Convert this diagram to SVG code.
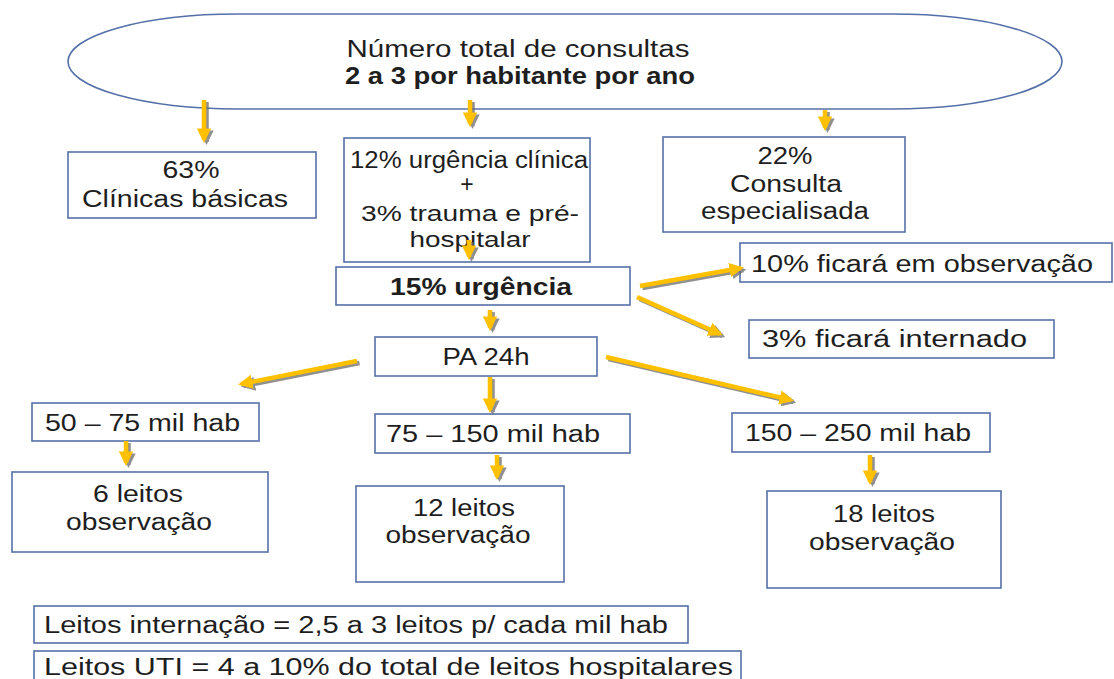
<svg xmlns="http://www.w3.org/2000/svg" width="1114" height="679" viewBox="0 0 1114 679">
<defs>
<style>
.box{fill:#fff;stroke:#5570a8;stroke-width:1.6}
.t{font-family:"Liberation Sans",Arial,sans-serif;font-size:23px;fill:#1e1e1e}
.c{text-anchor:middle}
.b{font-weight:bold}
.arr{fill:none;stroke:#FFC000;stroke-width:4.5}
.sh{fill:none;stroke:#6b6b6b;stroke-width:4.5;opacity:0.75}
</style>
<marker id="ah" viewBox="0 0 10 10" refX="8" refY="5" markerWidth="3.2" markerHeight="3.4" orient="auto" markerUnits="strokeWidth">
<path d="M0,0 L10,5 L0,10 Z" fill="#FFC000"/>
</marker>
<marker id="ahs" viewBox="0 0 10 10" refX="8" refY="5" markerWidth="3.2" markerHeight="3.4" orient="auto" markerUnits="strokeWidth">
<path d="M0,0 L10,5 L0,10 Z" fill="#6b6b6b"/>
</marker>
</defs>
<rect width="1114" height="679" fill="#fff"/>

<g id="n-total">
<rect class="box" x="68" y="14" width="994" height="95" rx="170" ry="47.5"/>
<text class="t c" x="518" y="57" textLength="343" lengthAdjust="spacingAndGlyphs">Número total de consultas</text>
<text class="t c b" x="520" y="84" textLength="350" lengthAdjust="spacingAndGlyphs">2 a 3 por habitante por ano</text>
</g>
<g id="n-clinicas">
<rect class="box" x="68" y="152" width="248" height="66"/>
<text class="t c" x="191" y="178" textLength="57" lengthAdjust="spacingAndGlyphs">63%</text>
<text class="t c" x="185" y="207" textLength="206" lengthAdjust="spacingAndGlyphs">Clínicas básicas</text>
</g>
<g id="n-urgclin">
<rect class="box" x="344" y="138" width="246" height="124"/>
<text class="t c" x="469" y="168" textLength="238" lengthAdjust="spacingAndGlyphs">12% urgência clínica</text>
<text class="t c" x="467" y="192">+</text>
<text class="t c" x="470" y="221" style="font-size:22px" textLength="218" lengthAdjust="spacingAndGlyphs">3% trauma e pré-</text>
<text class="t c" x="470" y="247" style="font-size:22px" textLength="121" lengthAdjust="spacingAndGlyphs">hospitalar</text>
</g>
<g id="n-espec">
<rect class="box" x="663" y="137" width="242" height="95"/>
<text class="t c" x="785" y="164" textLength="55" lengthAdjust="spacingAndGlyphs">22%</text>
<text class="t c" x="786" y="192" textLength="112" lengthAdjust="spacingAndGlyphs">Consulta</text>
<text class="t c" x="785" y="219" textLength="168" lengthAdjust="spacingAndGlyphs">especialisada</text>
</g>
<g id="n-urg">
<rect class="box" x="336" y="267" width="294" height="38"/>
<text class="t c b" x="481" y="295" textLength="182" lengthAdjust="spacingAndGlyphs">15% urgência</text>
</g>
<g id="n-obs10">
<rect class="box" x="740" y="243" width="372" height="39"/>
<text class="t" x="751" y="272" textLength="342" lengthAdjust="spacingAndGlyphs">10% ficará em observação</text>
</g>
<g id="n-int3">
<rect class="box" x="749" y="320" width="305" height="38"/>
<text class="t" x="762" y="347" textLength="265" lengthAdjust="spacingAndGlyphs">3% ficará internado</text>
</g>
<g id="n-pa">
<rect class="box" x="375" y="337" width="222" height="39"/>
<text class="t c" x="486" y="365" textLength="87" lengthAdjust="spacingAndGlyphs">PA 24h</text>
</g>
<g id="n-50">
<rect class="box" x="32" y="403" width="227" height="38"/>
<text class="t" x="45" y="431" textLength="195" lengthAdjust="spacingAndGlyphs">50 – 75 mil hab</text>
</g>
<g id="n-75">
<rect class="box" x="375" y="414" width="255" height="39"/>
<text class="t" x="386" y="442" textLength="214" lengthAdjust="spacingAndGlyphs">75 – 150 mil hab</text>
</g>
<g id="n-150">
<rect class="box" x="732" y="413" width="258" height="39"/>
<text class="t" x="745" y="441" textLength="226" lengthAdjust="spacingAndGlyphs">150 – 250 mil hab</text>
</g>
<g id="n-6">
<rect class="box" x="12" y="472" width="256" height="80"/>
<text class="t c" x="138" y="502" textLength="90" lengthAdjust="spacingAndGlyphs">6 leitos</text>
<text class="t c" x="139" y="530" textLength="146" lengthAdjust="spacingAndGlyphs">observação</text>
</g>
<g id="n-12">
<rect class="box" x="356" y="486" width="208" height="96"/>
<text class="t c" x="464" y="516" textLength="102" lengthAdjust="spacingAndGlyphs">12 leitos</text>
<text class="t c" x="458" y="543" textLength="145" lengthAdjust="spacingAndGlyphs">observação</text>
</g>
<g id="n-18">
<rect class="box" x="767" y="491" width="234" height="97"/>
<text class="t c" x="884" y="522" textLength="102" lengthAdjust="spacingAndGlyphs">18 leitos</text>
<text class="t c" x="882" y="550" textLength="146" lengthAdjust="spacingAndGlyphs">observação</text>
</g>
<g id="n-internacao">
<rect class="box" x="34" y="606" width="654" height="37"/>
<text class="t" x="44" y="633" textLength="624" lengthAdjust="spacingAndGlyphs">Leitos internação = 2,5 a 3 leitos p/ cada mil hab</text>
</g>
<g id="n-uti">
<rect class="box" x="34" y="651" width="707" height="40"/>
<text class="t" x="44" y="675" textLength="689" lengthAdjust="spacingAndGlyphs">Leitos UTI = 4 a 10% do total de leitos hospitalares</text>
</g>

<g id="connectors">
<g transform="translate(2.5,2)">
<path class="sh" marker-end="url(#ahs)" d="M204,100 L204,140"/>
<path class="sh" marker-end="url(#ahs)" d="M470,100 L470,124"/>
<path class="sh" marker-end="url(#ahs)" d="M825,110 L825,128"/>
<path class="sh" marker-end="url(#ahs)" d="M469,240 L469,257"/>
<path class="sh" marker-end="url(#ahs)" d="M490,310 L490,328"/>
<path class="sh" marker-end="url(#ahs)" d="M640,286 L741,268"/>
<path class="sh" marker-end="url(#ahs)" d="M637,297 L720,334"/>
<path class="sh" marker-end="url(#ahs)" d="M357,361 L241,384"/>
<path class="sh" marker-end="url(#ahs)" d="M490,377 L490,410"/>
<path class="sh" marker-end="url(#ahs)" d="M606,357 L791,400"/>
<path class="sh" marker-end="url(#ahs)" d="M126,441 L126,463"/>
<path class="sh" marker-end="url(#ahs)" d="M497,455 L497,477"/>
<path class="sh" marker-end="url(#ahs)" d="M870,455 L870,482"/>
</g>
<path class="arr" marker-end="url(#ah)" d="M204,100 L204,140"/>
<path class="arr" marker-end="url(#ah)" d="M470,100 L470,124"/>
<path class="arr" marker-end="url(#ah)" d="M825,110 L825,128"/>
<path class="arr" marker-end="url(#ah)" d="M469,240 L469,257"/>
<path class="arr" marker-end="url(#ah)" d="M490,310 L490,328"/>
<path class="arr" marker-end="url(#ah)" d="M640,286 L741,268"/>
<path class="arr" marker-end="url(#ah)" d="M637,297 L720,334"/>
<path class="arr" marker-end="url(#ah)" d="M357,361 L241,384"/>
<path class="arr" marker-end="url(#ah)" d="M490,377 L490,410"/>
<path class="arr" marker-end="url(#ah)" d="M606,357 L791,400"/>
<path class="arr" marker-end="url(#ah)" d="M126,441 L126,463"/>
<path class="arr" marker-end="url(#ah)" d="M497,455 L497,477"/>
<path class="arr" marker-end="url(#ah)" d="M870,455 L870,482"/>
</g>
</svg>
